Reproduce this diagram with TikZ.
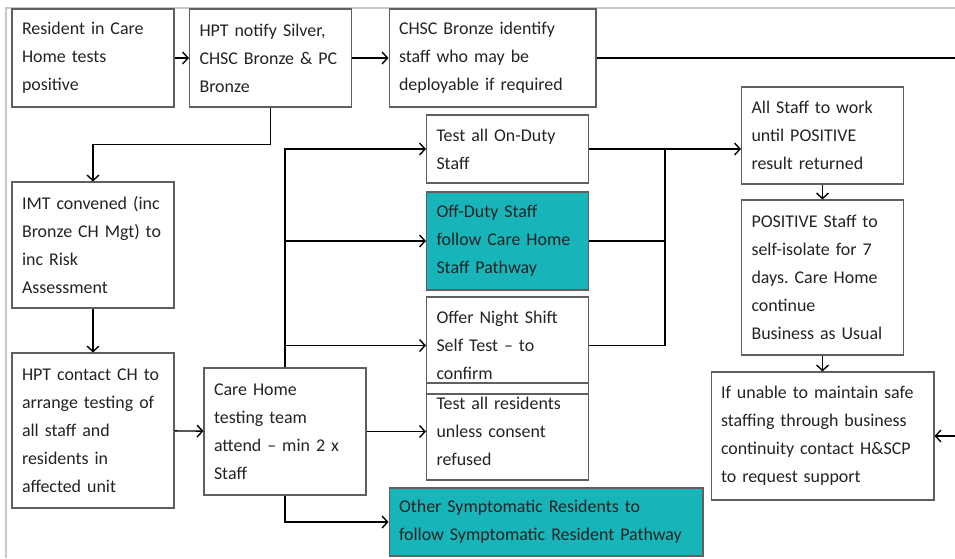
\documentclass[tikz,border=0pt]{standalone}
\usepackage{fontspec}
\setmainfont{Carlito}
\usetikzlibrary{arrows.meta,positioning}
\definecolor{pathteal}{RGB}{23,181,186}
\definecolor{boxgray}{RGB}{95,95,95}
\definecolor{textgray}{RGB}{35,35,35}
\definecolor{framegray}{RGB}{200,200,200}
\newcommand{\boxfont}{\fontsize{10.2}{15.9}\selectfont\frenchspacing\hyphenpenalty=10000\exhyphenpenalty=10000}
\tikzset{
	stepbox/.style={draw=boxgray, line width=0.6pt, text=textgray, align=left,
		inner xsep=0.2cm, inner ysep=0pt, text width=2.84cm, font=\boxfont},
	pathbox/.style={stepbox, fill=pathteal},
	link/.style={line width=0.8pt},
	flow/.style={link, -{Straight Barb[length=1.1mm,width=2.4mm]}}
}
\begin{document}
\begin{tikzpicture}[x=0.02cm, y=-0.02cm]
	\useasboundingbox (0,0) rectangle (955,558);
	% frame
	\draw[framegray, line width=0.6pt] (955,8) -- (6,8) -- (6,558);
	
	% first column and top row
	\node[stepbox, minimum height=1.96cm] (resident) at (93,58) {Resident in Care\\Home tests\\positive};
	\node[stepbox, minimum height=1.96cm] (notify) at (270.5,58) {HPT notify Silver,\\CHSC Bronze \& PC\\Bronze};
	\node[stepbox, text width=3.74cm, minimum height=1.96cm] (deploy) at (492.5,58) {CHSC Bronze identify\\staff who may be\\deployable if required};
	\node[stepbox, minimum height=2.52cm] (imt) at (93,245) {IMT convened (inc\\Bronze CH Mgt) to\\inc Risk\\Assessment};
	\node[stepbox, minimum height=3.10cm] (contact) at (93,430.5) {HPT contact CH to\\arrange testing of\\all staff and\\residents in\\affected unit};
	\node[stepbox, minimum height=2.54cm] (team) at (285,431.5) {Care Home\\testing team\\attend -- min 2 x\\Staff};
	
	% testing
	\node[stepbox, minimum height=1.36cm] (onduty) at (507.5,149) {Test all On-Duty\\Staff};
	\node[pathbox, minimum height=1.96cm] (offduty) at (507.5,241) {Off-Duty Staff\\follow Care Home\\Staff Pathway};
	\node[stepbox, minimum height=1.94cm] (night) at (507.5,345.5) {Offer Night Shift\\Self Test -- to\\confirm};
	\node[stepbox, minimum height=1.94cm] (residents) at (507.5,431.5) {Test all residents\\unless consent\\refused};
	\node[pathbox, text width=5.88cm, minimum height=1.36cm] (symptomatic) at (546,522) {Other Symptomatic Residents to\\follow Symptomatic Resident Pathway};
	
	% right column
	\node[stepbox, minimum height=1.94cm] (working) at (822.5,135.5) {All Staff to work\\until POSITIVE\\result returned};
	\node[stepbox, minimum height=3.10cm] (isolate) at (822.5,277.5) {POSITIVE Staff to\\self-isolate for 7\\days. Care Home\\continue\\Business as Usual};
	\node[stepbox, text width=4.06cm, minimum height=2.56cm] (unable) at (822.5,436) {If unable to maintain safe\\staffing through business\\continuity contact H\&SCP\\to request support};
	
	\coordinate (offpage) at (955,58);
	\coordinate (backin) at (955,436);
	\coordinate (join) at (665,149);
	
	% connectors
	\draw[flow] (resident) -- (notify);
	\draw[flow] (notify) -- (deploy);
	\draw[link] (deploy.east) -- (offpage);
	\draw[flow] (notify.south) -- ++(0,37) -| (imt.north);
	\draw[flow] (imt) -- (contact);
	\draw[flow] (contact) -- (team);
	\draw[flow] (team.north) |- (onduty.west);
	\draw[flow] (team.north) |- (offduty.west);
	\draw[flow] (team.north) |- (night.west);
	\draw[flow] (team.east) -- (residents.west);
	\draw[flow] (team.south) |- (symptomatic.west);
	\draw[link] (offduty.east) -| (join);
	\draw[link] (night.east) -| (join);
	\draw[flow] (onduty.east) -- (join) -- (join -| working.west);
	\draw[flow] (working) -- (isolate);
	\draw[flow] (isolate) -- (unable);
	\draw[flow] (backin) -- (unable.east);
\end{tikzpicture}
\end{document}
